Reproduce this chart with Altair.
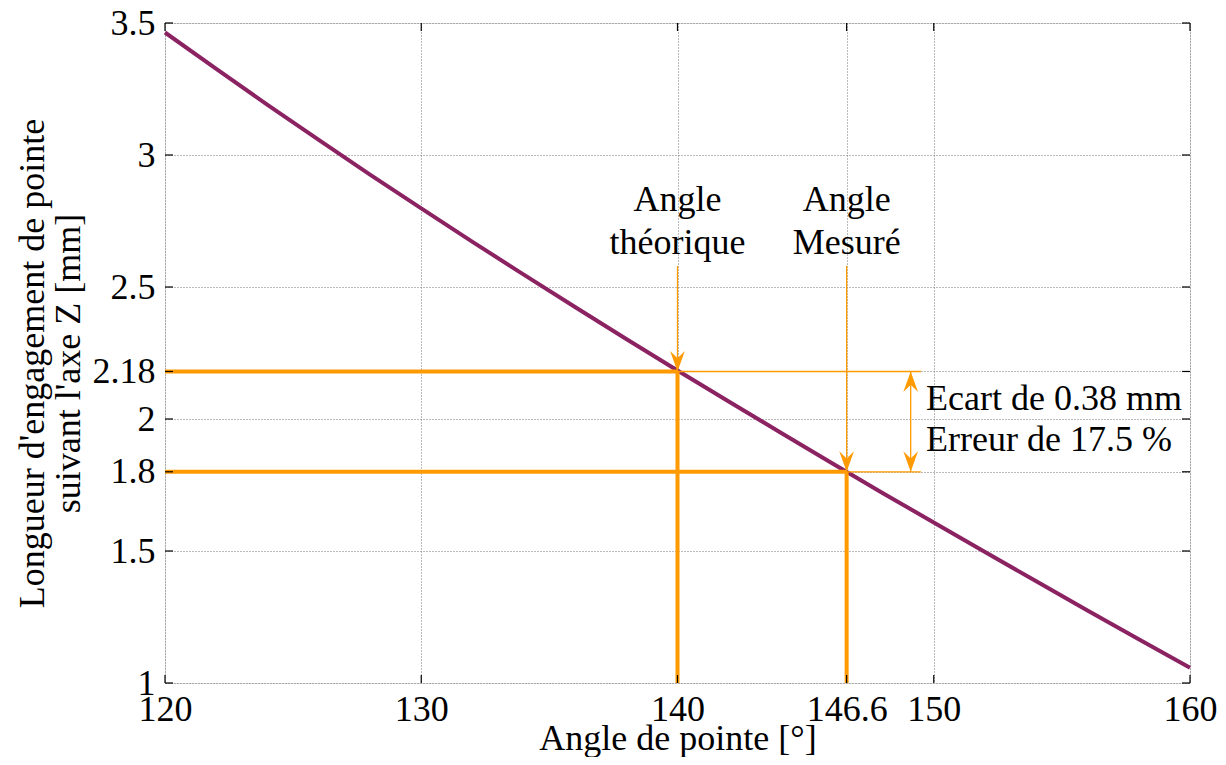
import altair as alt
import pandas as pd

# ---- data ----
angles = [120, 122, 124, 126, 128, 130, 132, 134, 136, 138, 140,
          142, 144, 146, 148, 150, 152, 154, 156, 158, 160]
lengths = [3.464, 3.326, 3.190, 3.057, 2.926, 2.798, 2.671, 2.547, 2.424, 2.303, 2.184,
           2.066, 1.950, 1.834, 1.720, 1.608, 1.496, 1.385, 1.275, 1.166, 1.058]

x_ticks = [120, 130, 140, 146.6, 150, 160]
y_ticks = [1, 1.5, 1.8, 2, 2.18, 2.5, 3, 3.5]

theo_angle, theo_len = 140, 2.18
meas_angle, meas_len = 146.6, 1.8
arrow_top = 2.58
ext_x = 149.5
dbl_x = 149.1

label_angle_theo = ["Angle", "théorique"]
label_angle_meas = ["Angle", "Mesuré"]
label_y_lines = [2.83, 2.665]
ecart_lines = ["Ecart de 0.38 mm", "Erreur de 17.5 %"]
ecart_y = [2.076, 1.92]
ecart_x = 149.7

FONT = "Liberation Serif"
FS = 36
ORANGE = "#FF9A00"
PURPLE = "#8B2262"
W, H = 1025, 660

xs = alt.Scale(domain=[120, 160], nice=False, zero=False)
ys = alt.Scale(domain=[1, 3.5], nice=False, zero=False)

curve_df = pd.DataFrame({"a": angles, "z": lengths})

base_x = alt.X("a:Q", scale=xs,
               axis=alt.Axis(values=x_ticks, labelExpr="'' + datum.value", ticks=False, domain=False,
                             grid=True, gridColor="#777", gridDash=[1, 2], gridWidth=1,
                             labelFont=FONT, labelFontSize=FS, labelColor="black",
                             labelPadding=9, labelFlush=False,
                             title="Angle de pointe [°]", titleFont=FONT, titleFontSize=FS,
                             titleFontWeight="normal", titleColor="black",
                             titleBaseline="alphabetic", titleY=66, titleX=W / 2,
                             titleAlign="center"))
base_y = alt.Y("z:Q", scale=ys,
               axis=alt.Axis(values=y_ticks, labelExpr="'' + datum.value", ticks=False, domain=False,
                             grid=True, gridColor="#777", gridDash=[1, 2], gridWidth=1,
                             labelFont=FONT, labelFontSize=FS, labelColor="black",
                             labelPadding=10, labelFlush=False,
                             title=["Longueur d'engagement de pointe", "suivant l'axe Z [mm]"],
                             titleFont=FONT, titleFontSize=FS, titleFontWeight="normal",
                             titleColor="black", titleAngle=-90, titleX=-150, titleY=340,
                             titleAlign="center", titleBaseline="top", titleLineHeight=36))

curve = alt.Chart(curve_df).mark_line(color=PURPLE, strokeWidth=4).encode(x=base_x, y=base_y)

# thick orange projection lines
thick_df = pd.DataFrame({
    "a": [120, theo_angle, 120, meas_angle],
    "a2": [theo_angle, theo_angle, meas_angle, meas_angle],
    "z": [theo_len, 1, meas_len, 1],
    "z2": [theo_len, theo_len, meas_len, meas_len],
})
thick = alt.Chart(thick_df).mark_rule(color=ORANGE, strokeWidth=4).encode(
    x=alt.X("a:Q", scale=xs), x2="a2:Q", y=alt.Y("z:Q", scale=ys), y2="z2:Q")

# thin orange lines
thin_df = pd.DataFrame({
    "a": [theo_angle, meas_angle, theo_angle, meas_angle, dbl_x],
    "a2": [ext_x, ext_x, theo_angle, meas_angle, dbl_x],
    "z": [theo_len, meas_len, arrow_top, arrow_top, theo_len],
    "z2": [theo_len, meas_len, theo_len, meas_len, meas_len],
})
thin = alt.Chart(thin_df).mark_rule(color=ORANGE, strokeWidth=1.3).encode(
    x=alt.X("a:Q", scale=xs), x2="a2:Q", y=alt.Y("z:Q", scale=ys), y2="z2:Q")

# arrowheads
down_path = "M0,0L-0.72,-2L0,-1.3L0.72,-2Z"
up_path = "M0,0L-0.72,2L0,1.3L0.72,2Z"
down_df = pd.DataFrame({"a": [theo_angle, meas_angle, dbl_x], "z": [theo_len, meas_len, meas_len]})
up_df = pd.DataFrame({"a": [dbl_x], "z": [theo_len]})
heads_down = alt.Chart(down_df).mark_point(shape=down_path, size=420, filled=True,
                                           color=ORANGE, opacity=1).encode(
    x=alt.X("a:Q", scale=xs), y=alt.Y("z:Q", scale=ys))
heads_up = alt.Chart(up_df).mark_point(shape=up_path, size=420, filled=True,
                                       color=ORANGE, opacity=1).encode(
    x=alt.X("a:Q", scale=xs), y=alt.Y("z:Q", scale=ys))

# labels
lab_df = pd.DataFrame({
    "a": [theo_angle, theo_angle, meas_angle, meas_angle],
    "z": label_y_lines + label_y_lines,
    "t": label_angle_theo + label_angle_meas,
})
labels = alt.Chart(lab_df).mark_text(font=FONT, fontSize=FS, color="black",
                                     align="center", baseline="middle").encode(
    x=alt.X("a:Q", scale=xs), y=alt.Y("z:Q", scale=ys), text="t:N")

ec_df = pd.DataFrame({"a": [ecart_x, ecart_x], "z": ecart_y, "t": ecart_lines})
ecart = alt.Chart(ec_df).mark_text(font=FONT, fontSize=FS, color="black",
                                   align="left", baseline="middle").encode(
    x=alt.X("a:Q", scale=xs), y=alt.Y("z:Q", scale=ys), text="t:N")

# inward ticks on all four sides
xt_df = pd.DataFrame({"a": x_ticks})
yt_df = pd.DataFrame({"z": y_ticks})
TL = 8
xt_bot = alt.Chart(xt_df).mark_rule(color="black", strokeWidth=1.2).encode(
    x=alt.X("a:Q", scale=xs), y=alt.value(H), y2=alt.value(H - TL))
xt_top = alt.Chart(xt_df).mark_rule(color="black", strokeWidth=1.2).encode(
    x=alt.X("a:Q", scale=xs), y=alt.value(0), y2=alt.value(TL))
yt_left = alt.Chart(yt_df).mark_rule(color="black", strokeWidth=1.2).encode(
    y=alt.Y("z:Q", scale=ys), x=alt.value(0), x2=alt.value(TL))
yt_right = alt.Chart(yt_df).mark_rule(color="black", strokeWidth=1.2).encode(
    y=alt.Y("z:Q", scale=ys), x=alt.value(W), x2=alt.value(W - TL))

chart = alt.layer(curve, thick, thin, heads_down, heads_up, labels, ecart,
                  xt_bot, xt_top, yt_left, yt_right).properties(
    width=W, height=H,
    autosize=alt.AutoSizeParams(type="none"),
    padding={"left": 157, "top": 15, "right": 28, "bottom": 74},
).configure_view(stroke="black", strokeWidth=1.5).configure(background="white")

chart.save("out.html", embed_options={"renderer": "svg", "actions": False})
